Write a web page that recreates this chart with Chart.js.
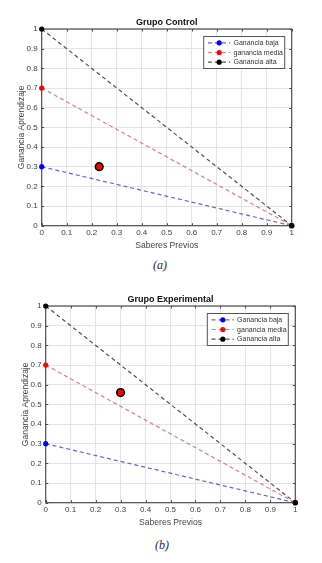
<!DOCTYPE html>
<html>
<head>
<meta charset="utf-8">
<script src="https://cdn.jsdelivr.net/npm/chart.js@4.4.1/dist/chart.umd.min.js"></script>
<style>
  body { margin: 0; background: #fff; width: 322px; height: 563px; overflow: hidden; position: relative; }
  .box { position: absolute; }
  .cap { position: absolute; width: 40px; text-align: center; font: italic 12px "Liberation Serif", serif; color: #1f2a48; }
</style>
</head>
<body>
<div class="box" style="left:0;top:0"><canvas id="chartA" width="322" height="256"></canvas></div>
<div class="cap" style="left:140px;top:258px">(a)</div>
<div class="box" style="left:4px;top:277px"><canvas id="chartB" width="318" height="256"></canvas></div>
<div class="cap" style="left:142px;top:538px">(b)</div>
<script>
// line ends: every line goes from x=0 down to (1, 0)
const xEnds = [0, 1];
const bajaY = [0.3, 0];
const mediaY = [0.7, 0];
const altaY = [1, 0];
const seriesNames = ['Ganancia baja', 'ganancia media', 'Ganancia alta'];
const tickLabels = ['0', '0.1', '0.2', '0.3', '0.4', '0.5', '0.6', '0.7', '0.8', '0.9', '1'];

// group result (saberes previos, ganancia)
const controlPoint = [0.23, 0.30];
const experimentalPoint = [0.30, 0.56];

const FONT = 'Liberation Sans, Arial, sans-serif';
const AXIS = '#4d4d4d';

function pts(ys){
    return xEnds.map((x, i) => ({x: x, y: ys[i]}));
}

// box round the plot + small inner tick marks, like matlab
const boxPlugin = {
    id: 'box',
    beforeDatasetsDraw(chart){
        const {ctx, chartArea: a, scales} = chart;
        ctx.save();
        ctx.strokeStyle = AXIS;
        ctx.lineWidth = 1;
        ctx.beginPath();
        scales.x.ticks.forEach(t => {
            const px = Math.round(scales.x.getPixelForValue(t.value)) + 0.5;
            ctx.moveTo(px, a.bottom); ctx.lineTo(px, a.bottom - 2.5);
            ctx.moveTo(px, a.top); ctx.lineTo(px, a.top + 2.5);
        });
        scales.y.ticks.forEach(t => {
            const py = Math.round(scales.y.getPixelForValue(t.value)) + 0.5;
            ctx.moveTo(a.left, py); ctx.lineTo(a.left + 2.5, py);
            ctx.moveTo(a.right, py); ctx.lineTo(a.right - 2.5, py);
        });
        ctx.stroke();
        ctx.lineWidth = 1.2;
        ctx.strokeRect(a.left, a.top, a.right - a.left, a.bottom - a.top);
        ctx.restore();
    }
};

// legend inside the top right corner
const legendPlugin = {
    id: 'innerLegend',
    afterDraw(chart){
        const {ctx, chartArea: a} = chart;
        const w = 81, h = 32;
        const bx = a.right - 7.5 - w, by = a.top + 7;
        ctx.save();
        ctx.fillStyle = '#fff';
        ctx.fillRect(bx, by, w, h);
        ctx.strokeStyle = '#555';
        ctx.lineWidth = 1;
        ctx.strokeRect(bx + 0.5, by + 0.5, w, h);
        chart.data.datasets.forEach((ds, i) => {
            if (!ds.label) return;
            const y = by + 6.8 + i * 9.7;
            ctx.strokeStyle = ds.borderColor;
            ctx.lineWidth = 1.2;
            ctx.setLineDash([4, 3]);
            ctx.beginPath();
            ctx.moveTo(bx + 4.7, y); ctx.lineTo(bx + 27, y);
            ctx.stroke();
            ctx.setLineDash([]);
            ctx.fillStyle = ds.pointBackgroundColor;
            ctx.beginPath();
            ctx.arc(bx + 16, y, 2.6, 0, Math.PI * 2);
            ctx.fill();
            ctx.fillStyle = '#333';
            ctx.font = '7px ' + FONT;
            ctx.textBaseline = 'middle';
            ctx.fillText(ds.label, bx + 30.3, y + 0.3);
        });
        ctx.restore();
    }
};

function lineSet(label, ys, line, dot, order){
    return {
        label: label,
        data: pts(ys),
        showLine: true,
        clip: false,
        borderColor: line,
        borderWidth: 1.2,
        borderDash: [4, 3],
        pointBackgroundColor: dot,
        pointBorderWidth: 0,
        pointRadius: 2.6,
        order: order
    };
}

function makeChart(id, title, point, rightPad){
    const ctx = document.getElementById(id);
    return new Chart(ctx, {
        type: 'scatter',
        data: {
            datasets: [
                lineSet(seriesNames[0], bajaY, 'rgba(60,60,230,0.8)', '#0000ff', 3),
                lineSet(seriesNames[1], mediaY, 'rgba(225,90,100,0.8)', '#ff0000', 2),
                lineSet(seriesNames[2], altaY, 'rgba(50,50,50,0.85)', '#000000', 1),
                {
                    label: '',
                    data: [{x: point[0], y: point[1]}],
                    clip: false,
                    pointBackgroundColor: '#ff0000',
                    pointBorderColor: '#000',
                    pointBorderWidth: 1.6,
                    pointRadius: 3.8,
                    order: 0
                }
            ]
        },
        options: {
            responsive: false,
            animation: false,
            devicePixelRatio: 1,
            layout: { padding: { left: 0, right: rightPad, top: 0, bottom: 0 } },
            plugins: {
                legend: { display: false },
                tooltip: { enabled: false },
                title: {
                    display: true,
                    text: title,
                    fullSize: false,
                    color: '#111',
                    font: { family: FONT, size: 9, weight: 'bold' },
                    padding: { top: 16.9, bottom: 1.3 }
                }
            },
            scales: {
                x: {
                    type: 'linear', min: 0, max: 1,
                    afterFit(s){ s.height = 30.3; },
                    afterBuildTicks(s){ s.ticks = tickLabels.map(Number).map(v => ({value: v})); },
                    ticks: {
                        callback: (v, i) => tickLabels[i],
                        color: '#404040', padding: 2, maxRotation: 0,
                        font: { family: FONT, size: 8 }
                    },
                    grid: { color: '#e4e4e4', drawTicks: false },
                    border: { display: false },
                    title: {
                        display: true, text: 'Saberes Previos', color: '#444',
                        font: { family: FONT, size: 8.6 },
                        padding: { top: 0, bottom: 4.8 }
                    }
                },
                y: {
                    type: 'linear', min: 0, max: 1,
                    afterFit(s){ s.width = 41.7; },
                    afterBuildTicks(s){ s.ticks = tickLabels.map(Number).map(v => ({value: v})); },
                    ticks: {
                        callback: (v, i) => tickLabels[i],
                        color: '#404040', padding: 4,
                        font: { family: FONT, size: 8 }
                    },
                    grid: { color: '#e4e4e4', drawTicks: false },
                    border: { display: false },
                    title: {
                        display: true, text: 'Ganancia Aprendizaje', color: '#444',
                        font: { family: FONT, size: 8.5 },
                        padding: { top: 16.6, bottom: 0 }
                    }
                }
            }
        },
        plugins: [boxPlugin, legendPlugin]
    });
}

makeChart('chartA', 'Grupo Control', controlPoint, 30.3);
makeChart('chartB', 'Grupo Experimental', experimentalPoint, 26.7);
</script>
</body>
</html>
